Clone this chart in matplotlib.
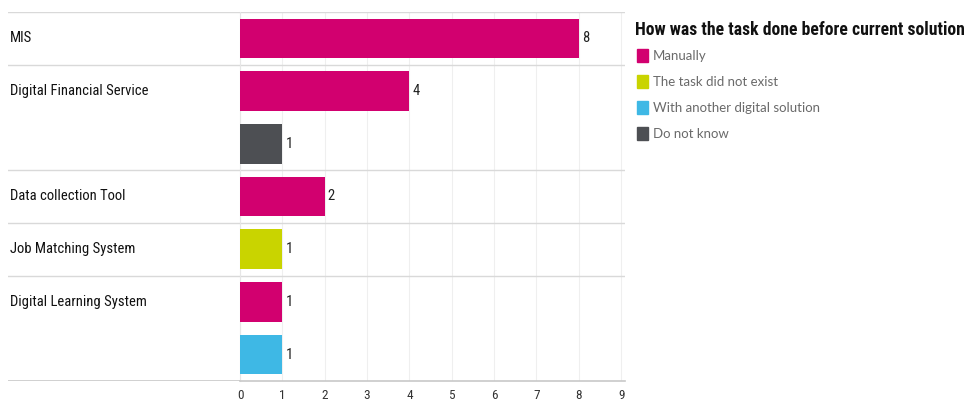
import matplotlib
matplotlib.use("Agg")
import matplotlib.pyplot as plt
from matplotlib.patches import Rectangle
from matplotlib import font_manager

# one bar per (system, answer) pair, top to bottom
systems = ["MIS", "Digital Financial Service", "Digital Financial Service",
           "Data collection Tool", "Job Matching System",
           "Digital Learning System", "Digital Learning System"]
answers = ["Manually", "Manually", "Do not know", "Manually",
           "The task did not exist", "Manually", "With another digital solution"]
counts = [8, 4, 1, 2, 1, 1, 1]

legend_title = "How was the task done before current solution"
legend_items = ["Manually", "The task did not exist",
                "With another digital solution", "Do not know"]
colors = {
    "Manually": "#D2006F",
    "The task did not exist": "#C9D400",
    "With another digital solution": "#3EB8E5",
    "Do not know": "#4D4F53",
}
xticks = list(range(0, 10))


def pick_font(*names):
    avail = {f.name for f in font_manager.fontManager.ttflist}
    for n in names:
        if n in avail:
            return n
    return "DejaVu Sans"


narrow = pick_font("Liberation Sans Narrow", "Roboto Condensed", "Liberation Sans")
light = pick_font("Lato", "Open Sans", "DejaVu Sans")

W, H = 969, 403
fig = plt.figure(figsize=(W / 100, H / 100), dpi=100)

top, bottom = 12, 381
x0, x1 = 240, 625
hx0 = 8

ax = fig.add_axes([x0 / W, (H - bottom) / H, (x1 - x0) / W, (bottom - top) / H])
axh = fig.add_axes([hx0 / W, (H - bottom) / H, (x0 - hx0) / W, (bottom - top) / H], sharey=ax)

n = len(counts)
pos = list(range(n))
ax.barh(pos, counts, height=0.75, color=[colors[a] for a in answers], zorder=3)
for p, c in zip(pos, counts):
    ax.text(c + 0.07, p, str(c), va="center", ha="left", fontsize=10.5,
            family=narrow, color="#222222", zorder=4)

ax.set_xlim(0, 9.09)
ax.set_ylim(n - 0.5, -0.5)
ax.set_xticks(xticks)
ax.set_xticklabels([str(t) for t in xticks], family=narrow, fontsize=9.5, color="#333333")
ax.tick_params(axis="x", length=0, pad=6)
ax.set_yticks([])
ax.grid(axis="x", color="#efefef", linewidth=0.8, zorder=0)
for s in ["top", "right"]:
    ax.spines[s].set_visible(False)
ax.spines["left"].set_color("#e6e6e6")
ax.spines["bottom"].set_color("#c8c8c8")
ax.spines["bottom"].set_linewidth(1.2)

axh.set_xlim(0, 1)
axh.axis("off")

# group separators and row headers
prev = None
for i, s in enumerate(systems):
    if s != prev:
        y = i - 0.5
        ax.axhline(y, color="#d9d9d9", linewidth=1.0, zorder=2)
        axh.axhline(y, color="#d9d9d9", linewidth=1.0)
        axh.text(0.01, i, s, va="center", ha="left", fontsize=10.5,
                 family=narrow, color="#111111")
        prev = s
axh.axhline(n - 0.5, color="#c8c8c8", linewidth=1.2)

# legend
fig.text(635 / W, 1 - 30 / H, legend_title, fontsize=12.7, fontweight="bold",
         family=narrow, va="center", ha="left", color="#111111")
for k, name in enumerate(legend_items):
    yc = 56 + 26 * k
    fig.patches.append(Rectangle((637 / W, 1 - (yc + 6) / H), 11 / W, 13 / H,
                                 transform=fig.transFigure, color=colors[name]))
    fig.text(653 / W, 1 - yc / H, name, fontsize=9.5, family=light,
             color="#6a6a6a", va="center", ha="left")

fig.savefig("out.png", dpi=100)
